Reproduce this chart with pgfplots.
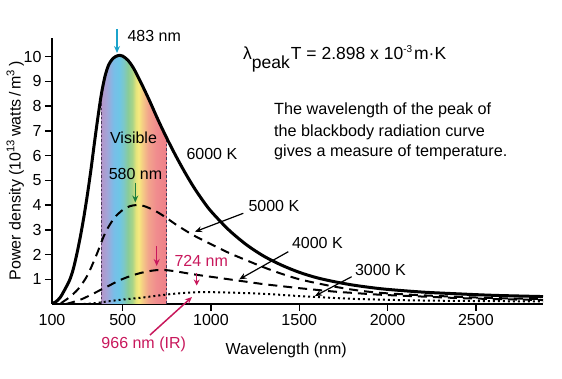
\documentclass[border=0pt]{standalone}
\usepackage{fontspec}
\setmainfont{Liberation Sans}
\usepackage{pgfplots}
\pgfplotsset{compat=1.18}
\usetikzlibrary{arrows.meta}

\definecolor{c380}{HTML}{B496C8}
\definecolor{c410}{HTML}{A4A4D8}
\definecolor{c450}{HTML}{78BEE8}
\definecolor{c480}{HTML}{6EC6E6}
\definecolor{c505}{HTML}{7CC8C8}
\definecolor{c530}{HTML}{8ACC98}
\definecolor{c555}{HTML}{A8D488}
\definecolor{c575}{HTML}{E4E47C}
\definecolor{c590}{HTML}{F6EA7E}
\definecolor{c615}{HTML}{F4C886}
\definecolor{c645}{HTML}{F2A48C}
\definecolor{c690}{HTML}{F08C8E}
\definecolor{c750}{HTML}{EE8088}
\definecolor{peakcyan}{HTML}{1BA3CB}
\definecolor{peakgreen}{HTML}{1F7F3E}
\definecolor{peakmag}{RGB}{200,24,92}
\definecolor{bandline}{HTML}{4A3A5A}

\pgfdeclarehorizontalshading{visspec}{100bp}{color(0bp)=(c380); color(25bp)=(c380); color(29.05bp)=(c410); color(34.46bp)=(c450); color(38.51bp)=(c480); color(41.89bp)=(c505); color(45.27bp)=(c530); color(48.65bp)=(c555); color(51.35bp)=(c575); color(53.38bp)=(c590); color(56.76bp)=(c615); color(60.81bp)=(c645); color(66.89bp)=(c690); color(75bp)=(c750); color(100bp)=(c750)}

\newcommand{\txt}{\fontsize{16}{19}\selectfont}

\begin{document}
\begin{tikzpicture}[x=1pt,y=1pt,font=\txt]
\useasboundingbox (0,0) rectangle (562,379);
\begin{axis}[
  at={(52pt,75pt)}, anchor=south west,
  scale only axis, width=491pt, height=266pt,
  xmin=100, xmax=2880, ymin=0, ymax=10.75,
  axis lines=left,
  axis line style={-, line width=2pt},
  tick align=outside,
  major tick length=7pt,
  tick style={line width=1.5pt, black},
  xtick={500,1000,1500,2000,2500},
  xticklabels={500,1000,1500,2000,2500},
  extra x ticks={100},
  extra x tick labels={100},
  extra x tick style={major tick style={draw=none}},
  scaled x ticks=false,
  ytick={1,2,3,4,5,6,7,8,9,10},
  /pgf/number format/assume math mode=true,
  tick label style={font=\txt},
  xlabel={Wavelength (nm)},
  ylabel={Power density (10\textsuperscript{13}\,watts\,/\,m\textsuperscript{3}\,)},
  xlabel style={font=\txt, at={(axis description cs:0.477,0)}, anchor=center, yshift=-46pt},
  ylabel style={font=\txt, at={(axis description cs:-0.075,0.5)}, anchor=center},
  clip=false,
]
% visible band (under the 6000 K curve)
\addplot[draw=none, shading=visspec] coordinates {(380,8.5) (400,9.2) (420,9.65) (440,9.88) (460,10.0) (483,10.05) (500,10.02) (530,9.85) (560,9.55) (600,9.0) (650,8.25) (700,7.45) (750,6.7)} \closedcycle;
\addplot[bandline, line width=0.8pt, dash pattern=on 2.5pt off 2pt] coordinates {(380,0) (380,8.5)};
\addplot[bandline, line width=0.8pt, dash pattern=on 2.5pt off 2pt] coordinates {(750,0) (750,6.7)};
% 3000 K
\addplot[black, line width=2pt, dash pattern=on 2pt off 3pt, smooth] coordinates {(280,0.0) (350,0.04) (420,0.11) (500,0.18) (600,0.25) (700,0.34) (800,0.42) (900,0.47) (966,0.48) (1050,0.47) (1200,0.44) (1350,0.39) (1500,0.32) (1650,0.26) (1800,0.21) (2000,0.17) (2200,0.14) (2500,0.12) (2880,0.1)};
% 4000 K
\addplot[black, line width=2pt, dash pattern=on 9pt off 6pt, smooth] coordinates {(180,0.0) (220,0.08) (270,0.2) (320,0.37) (370,0.55) (420,0.73) (480,0.95) (540,1.12) (600,1.25) (660,1.34) (724,1.38) (800,1.32) (900,1.2) (1000,1.1) (1100,1.0) (1200,0.9) (1300,0.8) (1400,0.72) (1500,0.64) (1600,0.57) (1700,0.5) (1800,0.45) (1900,0.4) (2000,0.36) (2200,0.3) (2400,0.24) (2600,0.2) (2880,0.16)};
% 5000 K
\addplot[black, line width=2pt, dash pattern=on 9pt off 6pt, smooth] coordinates {(150,0.03) (200,0.28) (250,0.62) (300,1.15) (350,1.95) (400,2.85) (450,3.45) (500,3.8) (540,3.95) (580,4.0) (620,3.96) (680,3.78) (740,3.52) (800,3.22) (900,2.78) (1000,2.42) (1100,2.07) (1200,1.77) (1300,1.48) (1400,1.22) (1500,1.0) (1600,0.84) (1700,0.7) (1800,0.58) (1900,0.49) (2000,0.43) (2200,0.35) (2400,0.29) (2600,0.24) (2880,0.2)};
% 6000 K
\addplot[black, line width=3pt, smooth] coordinates {(100,0.02) (120,0.08) (145,0.25) (170,0.55) (200,0.97) (220,1.4) (240,2.0) (260,2.7) (280,3.5) (300,4.4) (320,5.4) (340,6.5) (360,7.55) (380,8.5) (400,9.2) (420,9.65) (440,9.88) (460,10.0) (483,10.05) (500,10.02) (530,9.85) (560,9.55) (600,9.0) (650,8.25) (700,7.45) (750,6.7) (800,6.0) (850,5.35) (900,4.75) (950,4.22) (1000,3.75) (1100,3.0) (1200,2.4) (1300,1.93) (1400,1.57) (1500,1.28) (1600,1.06) (1700,0.9) (1800,0.77) (1900,0.67) (2000,0.59) (2200,0.48) (2400,0.41) (2600,0.35) (2880,0.3)};
\end{axis}
% annotations (pixel positions, y measured from bottom)
\draw[peakcyan, line width=1.5pt, -{Stealth[length=7pt,width=6pt]}] (117,350) -- (117,326);
\node[anchor=base west] at (124,337.3) {483 nm};
\node[anchor=base] at (133.5,235.7) {Visible};
\node[anchor=base] at (135.5,199) {580 nm};
\draw[peakgreen, line width=1.5pt, -{Stealth[length=7pt,width=6pt]}] (135.3,196) -- (135.3,176.5);
\node[anchor=base west] at (183,219.7) {6000 K};
\node[anchor=base west] at (245,167.3) {5000 K};
\draw[line width=1.2pt, -{Stealth[length=7pt,width=6pt]}] (243.3,165.7) -- (195,147.3);
\node[anchor=base west] at (288.5,130) {4000 K};
\draw[line width=1.2pt, -{Stealth[length=7pt,width=6pt]}] (288.3,127.3) -- (239.3,99.7);
\node[anchor=base west] at (351.5,103.3) {3000 K};
\draw[line width=1.2pt, -{Stealth[length=7pt,width=6pt]}] (351.7,102.3) -- (315,83);
\node[anchor=base west, text=peakmag] at (171,112.3) {724 nm};
\draw[peakmag, line width=1.5pt, -{Stealth[length=7pt,width=6pt]}] (156.7,133) -- (156.7,113);
\draw[peakmag, line width=1.5pt, -{Stealth[length=6pt,width=6pt]}] (196.7,106.3) -- (196.7,93.5);
\node[anchor=base, text=peakmag] at (143.7,30.7) {966 nm (IR)};
\draw[peakmag, line width=1.5pt, -{Stealth[length=7pt,width=6pt]}] (150,44) -- (192,82);
% formula
\node[anchor=base west, inner sep=0pt, font=\fontsize{17.5}{20}\selectfont] at (243,319.7) {λ\raisebox{-9pt}{peak}\hspace{1pt}T = 2.898 x 10\raisebox{7pt}{\fontsize{10}{12}\selectfont -3}\hspace{2pt}m·K};
% explanation
\node[anchor=base west, inner sep=0pt, font=\fontsize{16.2}{19}\selectfont] at (274,264) {The wavelength of the peak of};
\node[anchor=base west, inner sep=0pt, font=\fontsize{16.2}{19}\selectfont] at (274,242.3) {the blackbody radiation curve};
\node[anchor=base west, inner sep=0pt, font=\fontsize{16.2}{19}\selectfont] at (274,222.3) {gives a measure of temperature.};
\end{tikzpicture}
\end{document}
